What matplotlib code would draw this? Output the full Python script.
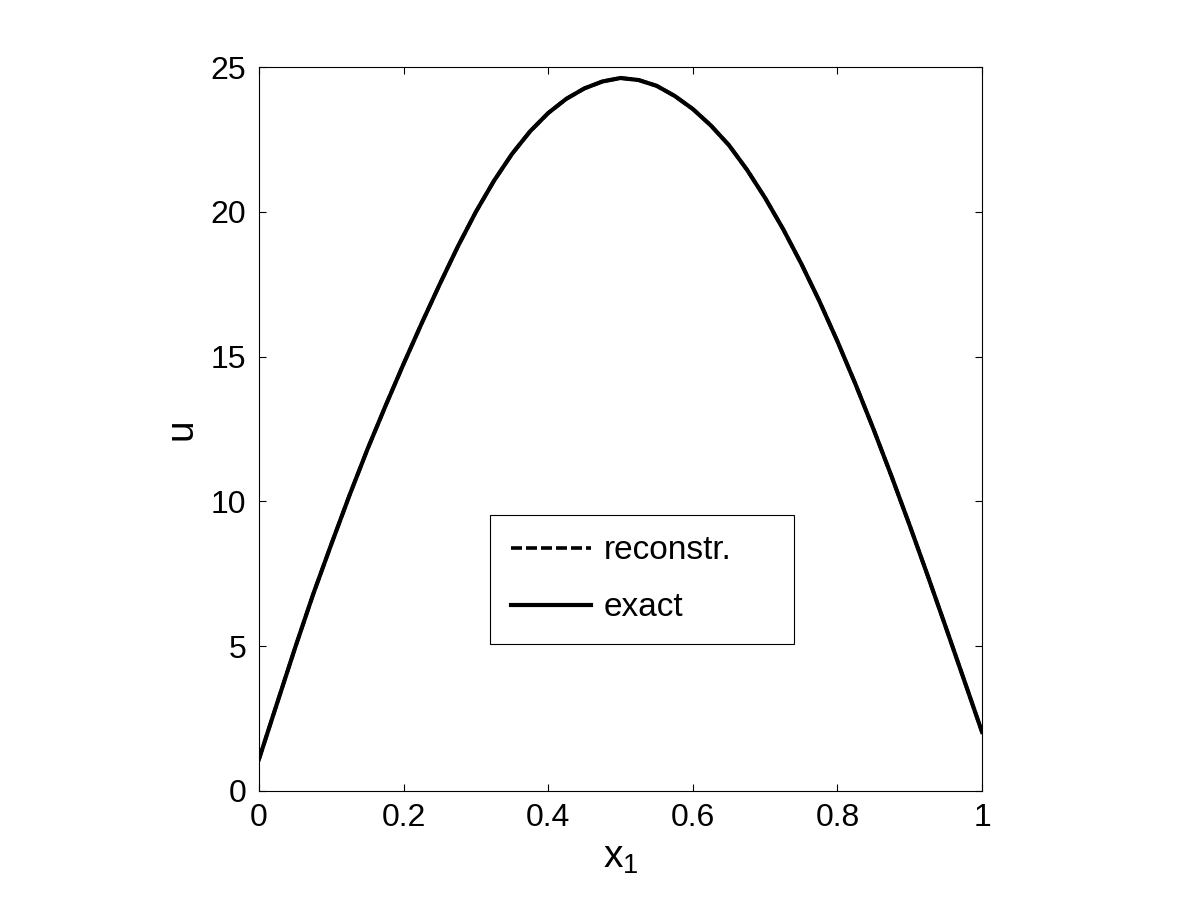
import numpy as np
import matplotlib
matplotlib.use("Agg")
import matplotlib.pyplot as plt

# values (x step 0.025)
x_vals = [0.0, 0.025, 0.05, 0.075, 0.1, 0.125, 0.15, 0.175, 0.2, 0.225,
          0.25, 0.275, 0.3, 0.325, 0.35, 0.375, 0.4, 0.425, 0.45, 0.475,
          0.5, 0.525, 0.55, 0.575, 0.6, 0.625, 0.65, 0.675, 0.7, 0.725,
          0.75, 0.775, 0.8, 0.825, 0.85, 0.875, 0.9, 0.925, 0.95, 0.975, 1.0]
u_exact = [1.1, 3.03, 4.95, 6.8, 8.52, 10.2, 11.8, 13.3, 14.75, 16.15,
           17.5, 18.8, 20.0, 21.07, 22.0, 22.78, 23.41, 23.9, 24.26, 24.5,
           24.62, 24.55, 24.35, 24.0, 23.55, 22.98, 22.3, 21.45, 20.48, 19.4,
           18.21, 16.92, 15.53, 14.05, 12.49, 10.86, 9.17, 7.43, 5.65, 3.85, 2.04]
u_reconstr = [1.1, 3.03, 4.95, 6.8, 8.52, 10.2, 11.8, 13.3, 14.75, 16.15,
              17.5, 18.8, 20.0, 21.07, 22.0, 22.78, 23.41, 23.9, 24.26, 24.5,
              24.62, 24.55, 24.35, 24.0, 23.55, 22.98, 22.3, 21.45, 20.48, 19.4,
              18.21, 16.92, 15.53, 14.05, 12.49, 10.86, 9.17, 7.43, 5.65, 3.85, 2.04]
xticks = [0, 0.2, 0.4, 0.6, 0.8, 1]
xtick_labels = ["0", "0.2", "0.4", "0.6", "0.8", "1"]
yticks = [0, 5, 10, 15, 20, 25]

plt.rcParams['font.family'] = ['Liberation Sans', 'DejaVu Sans']
plt.rcParams['lines.scale_dashes'] = False

fig = plt.figure(figsize=(12, 9), dpi=100)
ax = fig.add_axes([259 / 1200, 1 - 791 / 900, 723 / 1200, 724 / 900])

ax.plot(x_vals, u_reconstr, color='k', lw=2.6, linestyle=(0, (7.9, 2.9)),
        label='reconstr.')
ax.plot(x_vals, u_exact, color='k', lw=3.0, label='exact')

ax.set_xlim(0, 1)
ax.set_ylim(0, 25)
ax.set_xticks(xticks)
ax.set_xticklabels(xtick_labels)
ax.set_yticks(yticks)
ax.tick_params(direction='in', length=5, width=0.8, labelsize=23,
               top=True, right=True, pad=9)
for sp in ax.spines.values():
    sp.set_linewidth(0.8)

ax.set_xlabel(r'$\mathregular{x_1}$', fontsize=28, labelpad=5)
ax.set_ylabel('u', fontsize=28, labelpad=8)

leg = ax.legend(loc='lower left', bbox_to_anchor=(0.3195, 0.203, 0.4205, 0.178),
                mode='expand', borderaxespad=0, fontsize=24, fancybox=False,
                framealpha=1, edgecolor='k', handlelength=2.4,
                handletextpad=0.39, borderpad=0.62, labelspacing=0.78)
leg.get_frame().set_linewidth(0.8)

fig.savefig("out.png", dpi=100, facecolor='white')
